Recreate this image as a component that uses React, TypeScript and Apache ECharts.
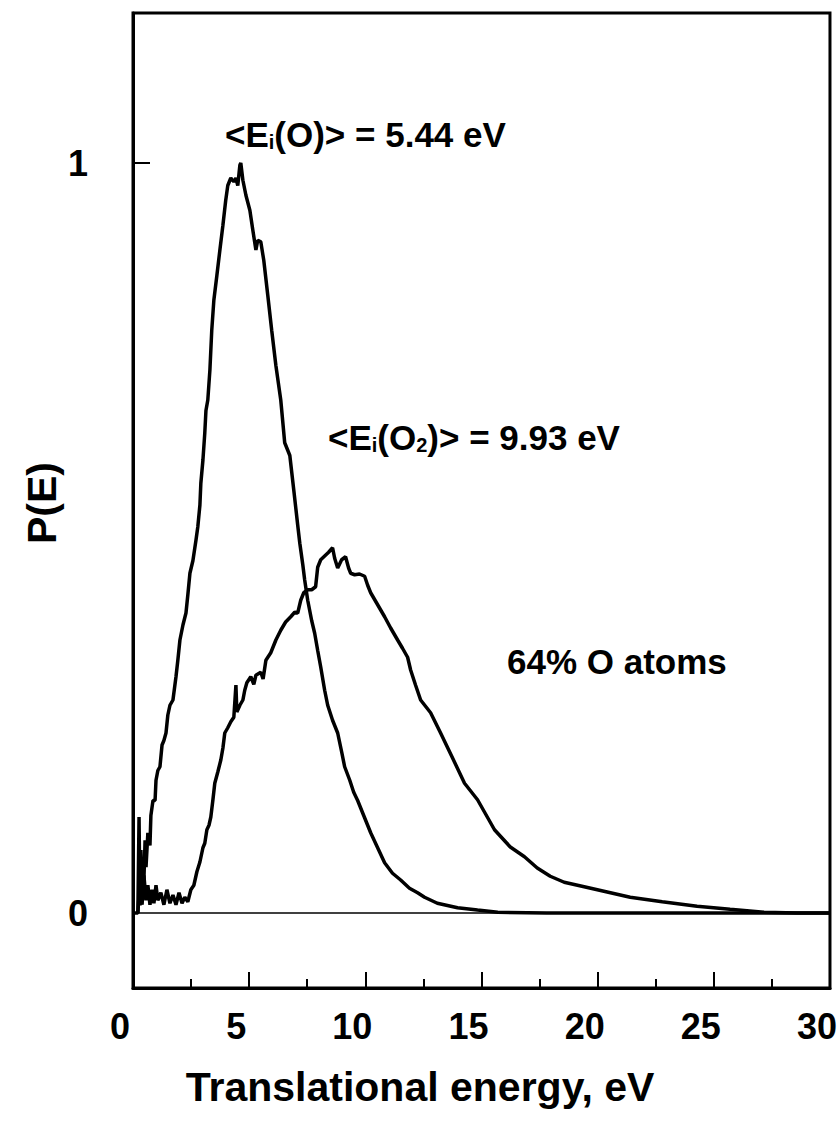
import React, { useEffect, useRef } from "react";
import * as echarts from "echarts";

// O atoms P(E): [energy eV, P]
const oAtoms: number[][] = [
  [0, 0], [0.21, 0], [0.26, 0.128], [0.3, 0.01], [0.34, 0.084], [0.39, 0.017], [0.43, 0.07],
  [0.47, 0.044], [0.52, 0.097], [0.56, 0.061], [0.64, 0.107], [0.73, 0.09], [0.77, 0.13],
  [0.86, 0.15], [0.95, 0.15], [0.99, 0.177], [1.07, 0.19], [1.16, 0.195], [1.25, 0.224],
  [1.33, 0.23], [1.42, 0.24], [1.5, 0.264], [1.59, 0.277], [1.72, 0.284], [1.85, 0.315],
  [1.93, 0.337], [2.02, 0.364], [2.15, 0.384], [2.28, 0.4], [2.36, 0.424], [2.45, 0.453],
  [2.58, 0.47], [2.71, 0.497], [2.79, 0.515], [2.88, 0.544], [2.92, 0.573], [3.01, 0.604],
  [3.09, 0.64], [3.14, 0.67], [3.22, 0.684], [3.31, 0.724], [3.39, 0.777], [3.48, 0.817],
  [3.61, 0.85], [3.74, 0.884], [3.87, 0.917], [3.99, 0.95], [4.08, 0.97], [4.21, 0.98],
  [4.34, 0.975], [4.43, 0.98], [4.51, 0.97], [4.6, 0.997], [4.64, 1.0], [4.73, 0.977],
  [4.86, 0.957], [5.03, 0.937], [5.16, 0.91], [5.29, 0.884], [5.37, 0.897], [5.5, 0.895],
  [5.63, 0.87], [5.8, 0.824], [5.97, 0.777], [6.15, 0.73], [6.36, 0.684], [6.53, 0.627],
  [6.66, 0.617], [6.75, 0.61], [6.92, 0.564], [7.09, 0.517], [7.18, 0.493], [7.31, 0.464],
  [7.39, 0.444], [7.52, 0.417], [7.69, 0.39], [7.82, 0.373], [7.95, 0.35], [8.08, 0.328],
  [8.25, 0.297], [8.38, 0.277], [8.59, 0.257], [8.81, 0.24], [8.98, 0.215], [9.11, 0.195],
  [9.33, 0.177], [9.5, 0.161], [9.67, 0.15], [9.93, 0.13], [10.23, 0.107], [10.53, 0.087],
  [10.83, 0.067], [11.17, 0.053], [11.52, 0.044], [11.9, 0.033], [12.25, 0.027], [12.55, 0.021],
  [13.1, 0.013], [13.97, 0.007], [14.83, 0.004], [15.7, 0.001], [17.8, 0], [30, 0],
];

// O2 molecules P(E): [energy eV, P]
const o2Molecules: number[][] = [
  [0.21, 0], [0.3, 0.044], [0.39, 0.011], [0.47, 0.05], [0.56, 0.017], [0.64, 0.037],
  [0.73, 0.011], [0.82, 0.031], [0.9, 0.013], [0.99, 0.037], [1.07, 0.017], [1.2, 0.027],
  [1.33, 0.011], [1.46, 0.031], [1.59, 0.013], [1.72, 0.024], [1.85, 0.011], [1.98, 0.027],
  [2.11, 0.013], [2.23, 0.021], [2.36, 0.015], [2.49, 0.031], [2.62, 0.037], [2.75, 0.055],
  [2.88, 0.068], [3.01, 0.087], [3.09, 0.093], [3.18, 0.111], [3.27, 0.117], [3.35, 0.128],
  [3.44, 0.151], [3.52, 0.173], [3.65, 0.188], [3.78, 0.204], [3.87, 0.22], [3.95, 0.24],
  [4.08, 0.247], [4.21, 0.255], [4.34, 0.261], [4.43, 0.304], [4.47, 0.268], [4.6, 0.277],
  [4.73, 0.284], [4.81, 0.297], [4.9, 0.307], [5.07, 0.315], [5.2, 0.305], [5.29, 0.317],
  [5.5, 0.321], [5.6, 0.312], [5.72, 0.337], [5.93, 0.347], [6.15, 0.364], [6.36, 0.377],
  [6.57, 0.388], [6.79, 0.395], [6.96, 0.401], [7.09, 0.4], [7.22, 0.417], [7.35, 0.427],
  [7.52, 0.431], [7.69, 0.431], [7.86, 0.435], [7.95, 0.461], [8.08, 0.471], [8.25, 0.476],
  [8.42, 0.481], [8.59, 0.487], [8.68, 0.473], [8.81, 0.46], [8.98, 0.471], [9.15, 0.475],
  [9.28, 0.46], [9.37, 0.453], [9.54, 0.451], [9.75, 0.452], [9.97, 0.449], [10.1, 0.437],
  [10.23, 0.427], [10.53, 0.411], [10.83, 0.395], [11.09, 0.38], [11.39, 0.364], [11.6, 0.353],
  [11.82, 0.341], [11.95, 0.324], [12.16, 0.304], [12.38, 0.284], [12.81, 0.267], [13.24, 0.24],
  [13.75, 0.207], [14.27, 0.173], [14.83, 0.151], [15.56, 0.111], [16.24, 0.088], [16.85, 0.075],
  [17.4, 0.06], [17.96, 0.049], [18.56, 0.041], [19.42, 0.035], [20.41, 0.028], [21.4, 0.021],
  [22.78, 0.015], [24.28, 0.009], [25.7, 0.005], [27.16, 0.001], [28.58, 0], [30, 0],
];

const yLabelValues = [0, 1];
const yTickValues = [1];
const xTitle = "Translational energy, eV";
const yTitle = "P(E)";
const noteO = "{a|<E}{s|i}{a|(O)> = 5.44 eV}";
const noteO2 = "{a|<E}{s|i}{a|(O}{s|2}{a|)> = 9.93 eV}";
const noteFrac = "64% O atoms";

const FONT = "'Liberation Sans', Arial, Helvetica, sans-serif";

export default function App() {
  const ref = useRef<HTMLDivElement>(null);
  useEffect(() => {
    if (!ref.current) return;
    const chart = echarts.init(ref.current, null, { renderer: "svg" });
    const rich = {
      a: { fontSize: 35, fontWeight: "bold", fontFamily: FONT, color: "#000", lineHeight: 36 },
      s: { fontSize: 20, fontWeight: "bold", fontFamily: FONT, color: "#000", lineHeight: 20, verticalAlign: "bottom" },
    };
    chart.setOption({
      animation: false,
      backgroundColor: "#fff",
      grid: {
        left: 133, right: 7, top: 13, bottom: 136,
        show: true, borderColor: "#000", borderWidth: 3, backgroundColor: "transparent",
      },
      xAxis: {
        type: "value", min: 0, max: 30, interval: 5,
        axisLine: { show: true, onZero: false, lineStyle: { color: "#000", width: 3 } },
        axisTick: { show: true, inside: true, length: 16, lineStyle: { color: "#000", width: 2 } },
        minorTick: { show: true, splitNumber: 2, length: 9, lineStyle: { color: "#000", width: 2 } },
        splitLine: { show: false },
        axisLabel: {
          fontSize: 36, fontWeight: "bold", fontFamily: FONT, color: "#000",
          margin: 20, padding: [0, 26, 0, 0],
        },
      },
      yAxis: {
        type: "value", min: -0.1, max: 1.2,
        axisLine: { show: true, onZero: false, lineStyle: { color: "#000", width: 3 } },
        axisTick: { show: true, inside: true, length: 17, customValues: yTickValues, lineStyle: { color: "#000", width: 2 } },
        splitLine: { show: false },
        axisLabel: {
          customValues: yLabelValues,
          fontSize: 36, fontWeight: "bold", fontFamily: FONT, color: "#000", margin: 45,
        },
      },
      graphic: [
        {
          type: "text", x: 420, y: 1087,
          style: { text: xTitle, fontSize: 41, fontWeight: "bold", fontFamily: FONT, fill: "#000", align: "center", verticalAlign: "middle" },
        },
        {
          type: "text", x: 42, y: 503, rotation: Math.PI / 2,
          style: { text: yTitle, fontSize: 41, fontWeight: "bold", fontFamily: FONT, fill: "#000", align: "center", verticalAlign: "middle" },
        },
        {
          type: "text", x: 225, y: 134,
          style: { text: noteO, rich, align: "left", verticalAlign: "middle" },
        },
        {
          type: "text", x: 328, y: 437,
          style: { text: noteO2, rich, align: "left", verticalAlign: "middle" },
        },
        {
          type: "text", x: 507, y: 661,
          style: { text: noteFrac, fontSize: 35, fontWeight: "bold", fontFamily: FONT, fill: "#000", align: "left", verticalAlign: "middle" },
        },
      ],
      series: [
        {
          name: "O atoms", type: "line", data: oAtoms, showSymbol: false, symbol: "none",
          lineStyle: { color: "#000", width: 3.5 }, z: 3,
          markLine: {
            silent: true, symbol: "none", label: { show: false },
            lineStyle: { color: "#000", width: 1.5, type: "solid" },
            data: [{ yAxis: 0 }],
          },
        },
        {
          name: "O2", type: "line", data: o2Molecules, showSymbol: false, symbol: "none",
          lineStyle: { color: "#000", width: 3.5 }, z: 3,
        },
      ],
    });
    return () => chart.dispose();
  }, []);
  return <div ref={ref} style={{ width: 840, height: 1124, position: "absolute", left: 0, top: 0 }} />;
}
